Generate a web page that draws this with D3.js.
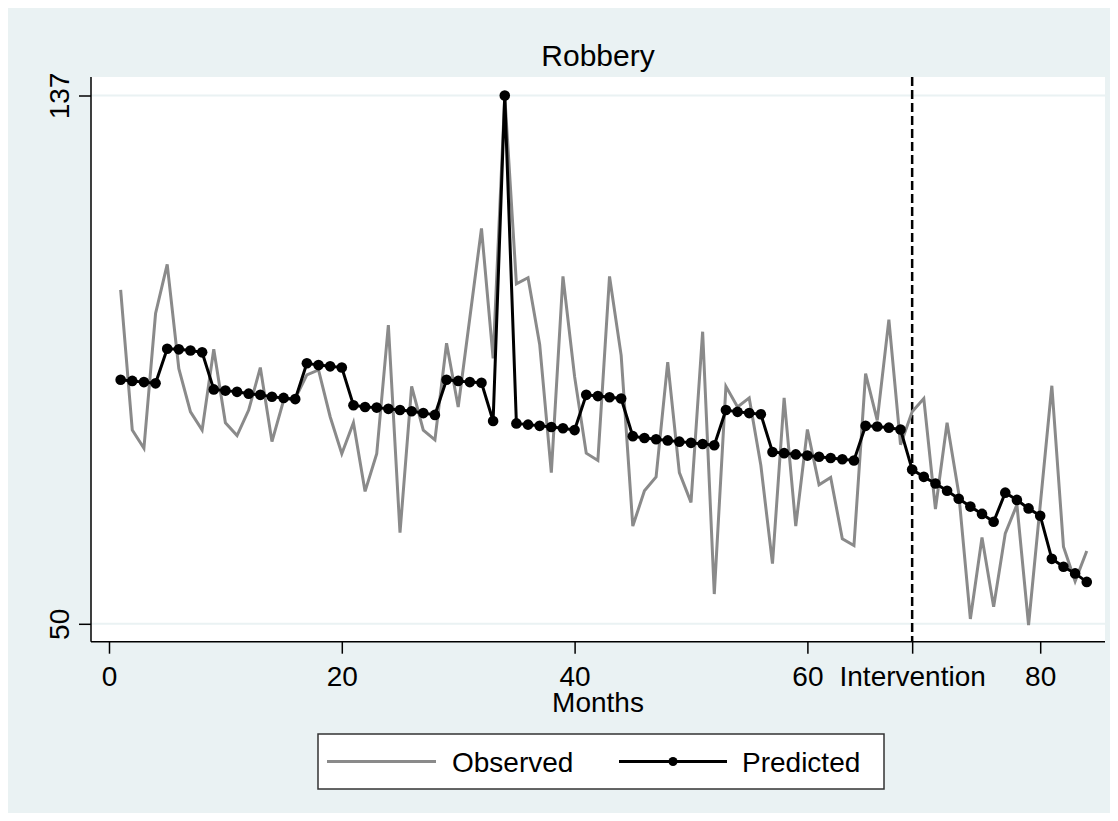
<!DOCTYPE html>
<html>
<head>
<meta charset="utf-8">
<script src="https://cdn.jsdelivr.net/npm/d3@7"></script>
<style>
html,body{margin:0;padding:0;background:#fff;}
svg{display:block;}
text{font-family:"Liberation Sans", Arial, Helvetica, sans-serif;fill:#000;}
</style>
</head>
<body>
<svg id="chart" width="1118" height="821"></svg>
<script>
// ---- data ----
const months = d3.range(1, 85);
const observed = [105.0,81.9,78.9,101.1,109.2,92.0,84.9,81.9,95.2,83.1,
  81.0,85.2,92.2,80.0,86.8,87.1,91.0,91.8,84.1,78.0,
  83.1,71.8,78.0,99.2,65.0,89.1,81.9,80.3,96.2,85.7,
  100.4,115.1,93.7,137.0,106.0,107.0,96.0,74.9,107.2,90.7,
  78.1,76.9,107.2,94.2,66.1,71.9,74.2,93.1,74.9,70.0,
  98.1,54.9,89.1,85.7,87.2,76.1,59.9,87.2,66.1,82.0,
  72.9,74.1,64.0,62.9,91.2,83.5,100.1,79.5,84.9,87.1,
  68.9,83.1,71.5,50.8,64.2,52.8,64.9,69.6,49.8,69.5,
  89.2,62.7,57.0,62.0];
const predicted = [90.2,90.0,89.8,89.6,95.3,95.2,95.0,94.7,88.6,88.4,
  88.2,87.9,87.7,87.4,87.2,87.0,92.9,92.6,92.4,92.2,
  86.0,85.7,85.6,85.4,85.2,85.0,84.7,84.4,90.2,90.0,
  89.8,89.7,83.4,137.0,83.0,82.8,82.6,82.4,82.2,81.9,
  87.7,87.5,87.3,87.1,80.9,80.6,80.4,80.2,80.0,79.8,
  79.6,79.4,85.2,84.9,84.7,84.5,78.3,78.1,77.9,77.7,
  77.5,77.3,77.1,76.9,82.6,82.5,82.3,82.0,75.4,74.2,
  73.1,71.9,70.6,69.3,68.1,66.8,71.6,70.4,69.0,67.8,
  60.7,59.4,58.3,56.9];
const xTicks = [0, 20, 40, 60, 80];
const interventionMonth = 69;
const interventionLabel = "Intervention";
const yTicks = [50, 137];
const titleText = "Robbery";
const xTitle = "Months";
const seriesNames = ["Observed", "Predicted"];

// ---- layout ----
const svg = d3.select("#chart");
const plot = {left: 91, right: 1105, top: 77, bottom: 641.7};
const x = d3.scaleLinear().domain([0, 80]).range([109, 1040.2]);
const y = d3.scaleLinear().domain([50, 137]).range([623.8, 95.5]);
const bg = "#eaf2f3";
const gray = "#8a8a8a";

svg.append("rect").attr("x", 8).attr("y", 8).attr("width", 1102).attr("height", 805).attr("fill", bg);
svg.append("rect").attr("x", plot.left).attr("y", plot.top)
  .attr("width", plot.right - plot.left).attr("height", plot.bottom - plot.top).attr("fill", "#fff");

// gridlines
svg.append("g").selectAll("line").data(yTicks).join("line")
  .attr("x1", plot.left).attr("x2", plot.right)
  .attr("y1", d => y(d)).attr("y2", d => y(d))
  .attr("stroke", bg).attr("stroke-width", 2);

// title
svg.append("text").attr("x", (plot.left + plot.right) / 2).attr("y", 66)
  .attr("text-anchor", "middle").attr("font-size", 30).text(titleText);

// y axis
const yAxis = d3.axisLeft(y).tickValues(yTicks).tickSize(12).tickFormat(d3.format("d"));
const gy = svg.append("g").attr("transform", `translate(${plot.left},0)`).call(yAxis);
gy.select(".domain").remove();
gy.selectAll(".tick line").attr("stroke", "#000").attr("stroke-width", 1.5);
gy.selectAll(".tick text").attr("font-size", 28).attr("fill", "#000")
  .attr("text-anchor", "middle")
  .attr("transform", "rotate(-90)")
  .attr("x", 0).attr("y", -22).attr("dy", 0)
  .style("font-family", '"Liberation Sans", Arial, sans-serif');
svg.append("line").attr("x1", plot.left).attr("x2", plot.left)
  .attr("y1", plot.top).attr("y2", plot.bottom).attr("stroke", "#000").attr("stroke-width", 1.5);

// x axis
const allXTicks = xTicks.concat([interventionMonth]);
const xAxis = d3.axisBottom(x).tickValues(allXTicks).tickSize(12)
  .tickFormat(d => d === interventionMonth ? interventionLabel : d3.format("d")(d));
const gx = svg.append("g").attr("transform", `translate(0,${plot.bottom})`).call(xAxis);
gx.select(".domain").remove();
gx.selectAll(".tick line").attr("stroke", "#000").attr("stroke-width", 1.5);
gx.selectAll(".tick text").attr("font-size", 28).attr("fill", "#000")
  .attr("y", 44).attr("dy", 0)
  .style("font-family", '"Liberation Sans", Arial, sans-serif');
svg.append("line").attr("x1", plot.left).attr("x2", plot.right)
  .attr("y1", plot.bottom).attr("y2", plot.bottom).attr("stroke", "#000").attr("stroke-width", 1.5);

svg.append("text").attr("x", (plot.left + plot.right) / 2).attr("y", 711.5)
  .attr("text-anchor", "middle").attr("font-size", 28).text(xTitle);

// intervention line
svg.append("line").attr("x1", x(interventionMonth)).attr("x2", x(interventionMonth))
  .attr("y1", plot.top).attr("y2", plot.bottom)
  .attr("stroke", "#000").attr("stroke-width", 2.5).attr("stroke-dasharray", "9,4");

// series
const obsLine = d3.line().x((d, i) => x(months[i])).y(d => y(d));
svg.append("path").datum(observed).attr("d", obsLine)
  .attr("fill", "none").attr("stroke", gray).attr("stroke-width", 3).attr("stroke-linejoin", "miter");
svg.append("path").datum(predicted).attr("d", obsLine)
  .attr("fill", "none").attr("stroke", "#000").attr("stroke-width", 3);
svg.append("g").selectAll("circle").data(predicted).join("circle")
  .attr("cx", (d, i) => x(months[i])).attr("cy", d => y(d)).attr("r", 5.3).attr("fill", "#000");

// legend
const lg = svg.append("g");
lg.append("rect").attr("x", 318).attr("y", 734).attr("width", 566).attr("height", 55)
  .attr("fill", "#fff").attr("stroke", "#333").attr("stroke-width", 1.5);
const ly = 761.5;
lg.append("line").attr("x1", 327).attr("x2", 436).attr("y1", ly).attr("y2", ly)
  .attr("stroke", gray).attr("stroke-width", 3);
lg.append("text").attr("x", 452).attr("y", ly + 10.5).attr("font-size", 28).text(seriesNames[0]);
lg.append("line").attr("x1", 619).attr("x2", 727).attr("y1", ly).attr("y2", ly)
  .attr("stroke", "#000").attr("stroke-width", 3);
lg.append("circle").attr("cx", 673).attr("cy", ly).attr("r", 4.5).attr("fill", "#000");
lg.append("text").attr("x", 742).attr("y", ly + 10.5).attr("font-size", 28).text(seriesNames[1]);
</script>
</body>
</html>
